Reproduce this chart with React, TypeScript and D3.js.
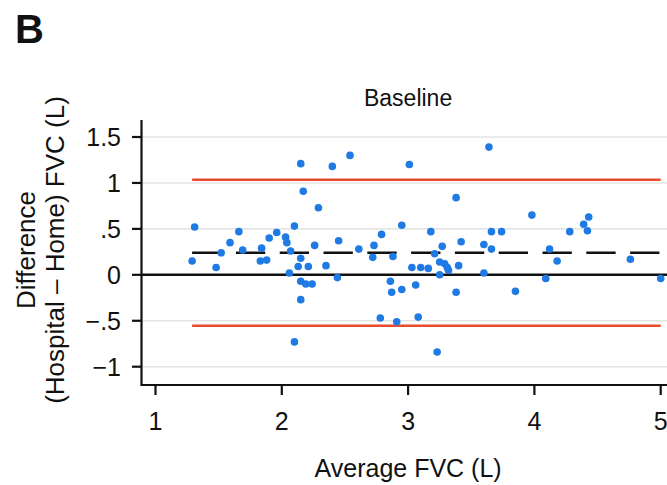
import React from 'react';
import * as d3 from 'd3';

// Bland-Altman, baseline visit: average FVC vs hospital - home difference
const avgFvc = [
  1.31, 1.29, 1.48, 1.52, 1.59, 1.66, 1.69, 1.84, 1.83, 1.88, 1.90, 1.96, 2.03, 2.04, 2.07,
  2.10, 2.15, 2.17, 2.29, 2.26, 2.15, 2.13, 2.21, 2.06, 2.15, 2.19, 2.24, 2.15, 2.10,
  2.40, 2.54, 2.35, 2.45, 2.44, 2.61, 2.73, 2.79, 2.72, 2.88, 2.95, 3.01, 2.86, 2.87,
  2.95, 2.78, 2.91, 3.06, 3.03, 3.10, 3.16, 3.08, 3.18, 3.27, 3.21, 3.25, 3.29, 3.31,
  3.32, 3.25, 3.38, 3.42, 3.40, 3.38, 3.23, 3.60, 3.60, 3.64,
  3.66, 3.66, 3.74, 3.85, 3.98, 4.09, 4.12, 4.18, 4.28, 4.39, 4.43, 4.42, 4.76, 5.00,
];
const diffFvc = [
  0.52, 0.15, 0.08, 0.24, 0.35, 0.47, 0.27, 0.29, 0.15, 0.16, 0.40, 0.46, 0.41, 0.35, 0.26,
  0.53, 1.21, 0.91, 0.73, 0.32, 0.18, 0.09, 0.09, 0.02, -0.07, -0.10, -0.10, -0.27, -0.73,
  1.18, 1.30, 0.10, 0.37, -0.03, 0.28, 0.32, 0.44, 0.19, 0.20, 0.54, 1.20, -0.07, -0.19,
  -0.16, -0.47, -0.51, -0.11, 0.08, 0.08, 0.07, -0.46, 0.47, 0.31, 0.23, 0.14, 0.12, 0.08,
  0.05, 0.00, 0.84, 0.36, 0.10, -0.19, -0.84, 0.33, 0.02, 1.39,
  0.47, 0.28, 0.47, -0.18, 0.65, -0.04, 0.28, 0.15, 0.47, 0.55, 0.63, 0.48, 0.17, -0.04,
];

const meanDiff = 0.24;
const limitsOfAgreement = [-0.555, 1.035];

const xTicks = [1, 2, 3, 4, 5];
const yTicks = [1.5, 1, 0.5, 0, -0.5, -1];
const yTickLabels = ['1.5', '1', '.5', '0', '\u2212.5', '\u22121'];

const FONT = '"Liberation Sans", Arial, Helvetica, sans-serif';

export default function App() {
  const width = 667;
  const height = 485;
  const axisX = 141.5;
  const axisY = 385;
  const axisTop = 120;

  const x = d3.scaleLinear().domain([1, 5]).range([155.5, 660.7]);
  const y = d3.scaleLinear().domain([-1, 1.5]).range([366.7, 137]);

  const [xmin, xmax] = d3.extent(avgFvc) as [number, number];
  const points = avgFvc.map((a, i) => ({ a, d: diffFvc[i] }));

  return (
    <svg
      width={width}
      height={height}
      style={{ position: 'absolute', left: 0, top: 0, background: '#fff' }}
      fontFamily={FONT}
    >
      <text x={15} y={43} fontSize={40} fontWeight="bold" fill="#111">B</text>

      <text x={x(3)} y={106} fontSize={23} textAnchor="middle" fill="#111">Baseline</text>

      {/* grid */}
      {yTicks.filter(t => t !== 0).map(t => (
        <line key={'g' + t} x1={axisX} x2={width} y1={y(t)} y2={y(t)} stroke="#e4e4e4" strokeWidth={1.6} />
      ))}

      {/* limits of agreement */}
      {limitsOfAgreement.map(v => (
        <line key={'loa' + v} x1={x(xmin)} x2={x(xmax)} y1={y(v)} y2={y(v)} stroke="#ec4a2c" strokeWidth={2.4} />
      ))}

      {/* mean difference */}
      <line x1={x(xmin)} x2={x(xmax)} y1={y(meanDiff)} y2={y(meanDiff)}
        stroke="#111" strokeWidth={2.6} strokeDasharray="29.3 14.5" />

      {/* zero line */}
      <line x1={axisX} x2={width} y1={y(0)} y2={y(0)} stroke="#111" strokeWidth={2.4} />

      {points.map((p, i) => (
        <circle key={i} cx={x(p.a)} cy={y(p.d)} r={3.8} fill="#1f7ae3" />
      ))}

      {/* axes */}
      <path d={`M${axisX},${axisTop}V${axisY}H${width}`} fill="none" stroke="#111" strokeWidth={2.2} />

      {yTicks.map((t, i) => (
        <g key={'yt' + t}>
          <line x1={axisX - 9.5} x2={axisX} y1={y(t)} y2={y(t)} stroke="#111" strokeWidth={2.2} />
          <text x={121} y={y(t)} dy="0.36em" fontSize={25} textAnchor="end" fill="#111">
            {yTickLabels[i]}
          </text>
        </g>
      ))}

      {xTicks.map(t => (
        <g key={'xt' + t}>
          <line x1={x(t)} x2={x(t)} y1={axisY} y2={axisY + 10} stroke="#111" strokeWidth={2.2} />
          <text x={x(t)} y={430} fontSize={25} textAnchor="middle" fill="#111">{t}</text>
        </g>
      ))}

      <text x={x(3)} y={477} fontSize={25} textAnchor="middle" fill="#111">Average FVC (L)</text>

      <g transform="translate(0,250) rotate(-90)" fontSize={26} fill="#111" textAnchor="middle">
        <text x={0} y={35}>Difference</text>
        <text x={0} y={64}>(Hospital – Home) FVC (L)</text>
      </g>
    </svg>
  );
}
